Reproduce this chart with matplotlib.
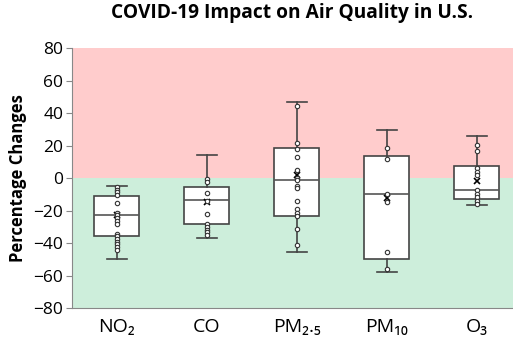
import matplotlib
matplotlib.use('Agg')
from matplotlib import pyplot as plt

plt.rcParams['font.family'] = ['Open Sans', 'DejaVu Sans']

labels = ['NO\u2082', 'CO', 'PM\u2082.\u2085', 'PM\u2081\u2080', 'O\u2083']

# box statistics
whis_hi = [-5, 14.4, 47, 29.4, 25.8]
q3 = [-10.8, -5.4, 18.3, 13.9, 7.5]
median = [-22.9, -13.3, -1, -10, -7.5]
q1 = [-35.8, -28.3, -23.3, -49.8, -12.7]
whis_lo = [-49.6, -37.1, -45.4, -57.7, -16.5]
means = [-22.9, -14.8, 1.7, -12.1, -1.9]

# inner points
no2 = [-5.4, -7.1, -8.8, -10.4, -15.4, -21.3, -22.9, -24.6, -26.3, -27.9,
       -34.2, -35.8, -37.5, -39.2, -40.8, -42.5, -44.2]
co = [-0.8, -2.5, -9, -14, -21.9, -28.3, -30, -31.7, -33.3, -35]
pm25 = [44.6, 21.7, 17.9, 12.9, 5, 0.4, -1.3, -4.6, -6.3, -14.2, -19.2,
        -21.7, -23.3, -31.3, -41.3]
pm10 = [18.5, 12.1, -10, -14.6, -45.2, -55.6]
o3 = [20.6, 16.9, 6, 3.9, 1.9, -7.5, -9.6, -11.7, -13.8, -15.8]
points = [no2, co, pm25, pm10, o3]

fig = plt.figure(figsize=(5.13, 3.42), dpi=100)
ax = fig.add_axes([0.140, 0.099, 0.860, 0.760])

ax.axhspan(0, 80, color='#ffcccc', zorder=0, lw=0)
ax.axhspan(-80, 0, color='#cdeedb', zorder=0, lw=0)

stats = []
for i in range(5):
    stats.append({'med': median[i], 'q1': q1[i], 'q3': q3[i],
                  'whislo': whis_lo[i], 'whishi': whis_hi[i],
                  'mean': means[i], 'fliers': []})

pos = [1, 2, 3, 4, 5]
ax.bxp(stats, positions=pos, widths=0.5, showmeans=True, patch_artist=True,
       boxprops=dict(facecolor='white', edgecolor='#444444', lw=1.2),
       medianprops=dict(color='#555555', lw=1.2),
       whiskerprops=dict(color='#444444', lw=1.2),
       capprops=dict(color='#444444', lw=1.2),
       capwidths=0.22,
       meanprops=dict(marker='x', markeredgecolor='black', markersize=5, mew=1.2),
       zorder=2)

for i, p in enumerate(points):
    ax.scatter([pos[i]] * len(p), p, s=10, facecolors='white',
               edgecolors='#333333', linewidths=0.8, zorder=3)

ax.set_xlim(0.5, 5.4)
ax.set_ylim(-80, 80)
ax.set_yticks(range(-80, 81, 20))
ax.set_xticks(pos)
ax.set_xticklabels(labels, fontsize=14)
ax.tick_params(axis='x', length=0, pad=7)
ax.tick_params(axis='y', labelsize=12.5, length=4, color='#888888', pad=2)
for s in ['top', 'right']:
    ax.spines[s].set_visible(False)
ax.spines['left'].set_color('#888888')
ax.spines['bottom'].set_color('#888888')

ax.set_ylabel('Percentage Changes', fontsize=12, fontweight='bold', labelpad=5)
fig.suptitle('COVID-19 Impact on Air Quality in U.S.', fontsize=13.8,
             fontweight='bold', x=0.57, y=0.99)

plt.savefig('out.png', dpi=100)
